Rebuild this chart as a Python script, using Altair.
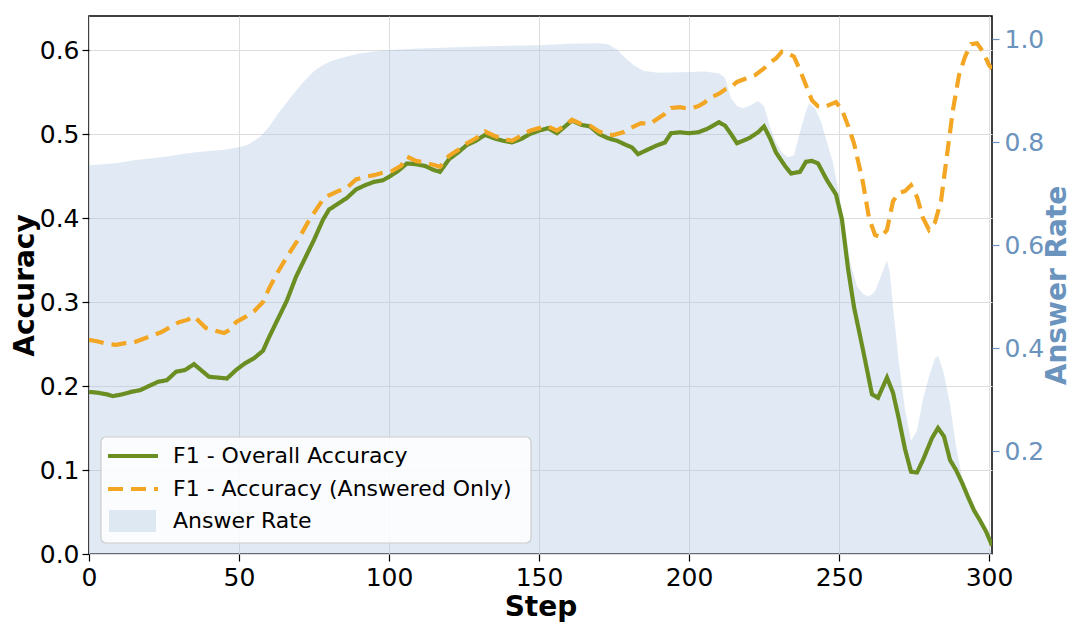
import altair as alt
import pandas as pd

# ---------------- data ----------------
overall_steps = [0, 3, 6, 8, 11, 14, 17, 20, 23, 26, 29, 32, 35, 38, 40, 43, 46, 49, 52, 55,
                 58, 60, 63, 66, 69, 72, 75, 78, 80, 83, 86, 89, 92, 95, 98, 100, 103, 106, 109, 112,
                 115, 117, 120, 123, 126, 129, 132, 135, 138, 141, 144, 147, 150, 153, 156, 159, 161, 164, 167, 170,
                 173, 176, 179, 181, 183, 186, 189, 192, 194, 197, 200, 203, 206, 208, 210, 212, 214, 216, 218, 220,
                 223, 225, 227, 229, 232, 234, 237, 239, 241, 243, 246, 249, 251, 253, 255, 258, 261, 263, 266, 268,
                 270, 272, 274, 276, 278, 281, 283, 285, 287, 289, 291, 293, 295, 297, 299, 301]
overall_vals = [0.193, 0.192, 0.190, 0.188, 0.190, 0.193, 0.195, 0.200, 0.205, 0.207, 0.217, 0.219, 0.226, 0.217, 0.211, 0.210, 0.209, 0.219, 0.227, 0.233,
                0.242, 0.258, 0.280, 0.302, 0.330, 0.352, 0.374, 0.398, 0.410, 0.417, 0.424, 0.434, 0.439, 0.443, 0.445, 0.449, 0.456, 0.465, 0.464, 0.462,
                0.457, 0.455, 0.470, 0.478, 0.487, 0.492, 0.499, 0.495, 0.492, 0.490, 0.494, 0.500, 0.504, 0.507, 0.501, 0.510, 0.516, 0.511, 0.509, 0.500,
                0.495, 0.492, 0.487, 0.484, 0.476, 0.481, 0.486, 0.490, 0.501, 0.502, 0.501, 0.502, 0.506, 0.510, 0.514, 0.510, 0.500, 0.489, 0.492, 0.495,
                0.502, 0.509, 0.495, 0.478, 0.462, 0.453, 0.455, 0.467, 0.468, 0.465, 0.445, 0.428, 0.398, 0.340, 0.294, 0.243, 0.190, 0.186, 0.210, 0.192,
                0.160, 0.125, 0.098, 0.097, 0.112, 0.138, 0.150, 0.140, 0.112, 0.100, 0.085, 0.068, 0.052, 0.040, 0.027, 0.010]

answered_steps = [0, 3, 6, 9, 12, 15, 18, 21, 24, 27, 30, 33, 35, 37, 39, 42, 45, 47, 49, 52,
                  55, 58, 60, 63, 66, 70, 73, 75, 78, 80, 83, 86, 89, 92, 95, 98, 101, 104, 106, 109,
                  112, 115, 117, 120, 123, 126, 129, 132, 135, 138, 141, 144, 147, 150, 153, 156, 159, 161, 164, 167,
                  170, 173, 175, 178, 181, 184, 187, 189, 192, 194, 197, 200, 203, 205, 207, 210, 212, 214, 216, 219,
                  222, 225, 227, 229, 231, 233, 235, 237, 239, 241, 243, 245, 247, 249, 251, 253, 255, 258, 260, 262,
                  264, 266, 268, 270, 272, 274, 276, 278, 280, 282, 284, 286, 288, 290, 292, 294, 296, 298, 300, 301]
answered_vals = [0.255, 0.253, 0.250, 0.249, 0.251, 0.252, 0.256, 0.260, 0.264, 0.270, 0.276, 0.279, 0.283, 0.276, 0.269, 0.266, 0.263, 0.267, 0.276, 0.282,
                 0.289, 0.300, 0.316, 0.336, 0.354, 0.376, 0.395, 0.406, 0.422, 0.427, 0.432, 0.436, 0.446, 0.449, 0.451, 0.454, 0.456, 0.462, 0.473, 0.468,
                 0.466, 0.463, 0.461, 0.474, 0.481, 0.489, 0.495, 0.503, 0.498, 0.494, 0.492, 0.498, 0.504, 0.507, 0.509, 0.504, 0.511, 0.517, 0.512, 0.510,
                 0.503, 0.499, 0.499, 0.502, 0.508, 0.513, 0.512, 0.517, 0.524, 0.531, 0.532, 0.530, 0.533, 0.537, 0.543, 0.548, 0.553, 0.556, 0.562, 0.566,
                 0.570, 0.578, 0.585, 0.590, 0.598, 0.596, 0.592, 0.576, 0.558, 0.540, 0.533, 0.532, 0.535, 0.538, 0.529, 0.510, 0.489, 0.442, 0.400, 0.380,
                 0.377, 0.386, 0.420, 0.430, 0.432, 0.439, 0.425, 0.400, 0.386, 0.395, 0.420, 0.475, 0.529, 0.570, 0.592, 0.607, 0.608, 0.598, 0.582, 0.578]

rate_steps = [0, 5, 10, 15, 20, 25, 30, 35, 40, 45, 50, 53, 57, 60, 63, 66, 69, 72, 75, 78,
              81, 85, 90, 95, 100, 110, 120, 130, 140, 150, 160, 170, 173, 176, 179, 182, 185, 190, 200, 205,
              210, 212, 214, 216, 218, 220, 223, 225, 227, 229, 231, 233, 235, 237, 239, 240, 242, 244, 246, 248,
              250, 252, 254, 256, 258, 260, 262, 264, 266, 267, 268, 270, 272, 274, 276, 278, 280, 282, 283, 285,
              287, 289, 291, 293, 295, 297, 299, 301]
rate_vals = [0.755, 0.757, 0.760, 0.765, 0.768, 0.771, 0.776, 0.780, 0.783, 0.785, 0.790, 0.795, 0.810, 0.830, 0.855, 0.878, 0.900, 0.920, 0.938, 0.950,
             0.958, 0.965, 0.972, 0.976, 0.979, 0.982, 0.984, 0.986, 0.987, 0.988, 0.991, 0.992, 0.990, 0.980, 0.962, 0.948, 0.938, 0.935, 0.936, 0.937,
             0.934, 0.925, 0.885, 0.870, 0.866, 0.870, 0.880, 0.870, 0.830, 0.800, 0.780, 0.770, 0.775, 0.820, 0.860, 0.875, 0.866, 0.840, 0.800, 0.760,
             0.700, 0.630, 0.560, 0.520, 0.505, 0.500, 0.510, 0.540, 0.570, 0.545, 0.480, 0.370, 0.280, 0.220, 0.240, 0.300, 0.345, 0.380, 0.385, 0.350,
             0.290, 0.210, 0.150, 0.115, 0.085, 0.060, 0.035, 0.000]

S1 = "F1 - Overall Accuracy"
S2 = "F1 - Accuracy (Answered Only)"
S3 = "Answer Rate"
legend_labels = [S1, S2, S3]

x_ticks = [0, 50, 100, 150, 200, 250, 300]
acc_ticks = [0.0, 0.1, 0.2, 0.3, 0.4, 0.5, 0.6]
rate_ticks = [0.2, 0.4, 0.6, 0.8, 1.0]

# ---------------- styling ----------------
GREEN = "#6b8e23"
ORANGE = "#f2a623"
BLUE_FILL = "#a9c2e0"
BLUE_TEXT = "#6a93bd"
FONT = "DejaVu Sans"
DASH = [15, 8]

W, H = 903, 538

lines_df = pd.concat([
    pd.DataFrame({"step": overall_steps, "value": overall_vals, "series": S1}),
    pd.DataFrame({"step": answered_steps, "value": answered_vals, "series": S2}),
], ignore_index=True)
rate_df = pd.DataFrame({"step": rate_steps, "rate": rate_vals})

x_axis = alt.Axis(values=x_ticks, title="Step", grid=True, gridColor="#dddddd", gridWidth=1,
                  domain=False, tickColor="black", tickSize=7, tickWidth=1.2,
                  labelFontSize=25, labelColor="black", labelPadding=4, labelFlush=False,
                  titleFontSize=28, titleFontWeight="bold", titleColor="black",
                  titleX=W / 2, titleY=53, titleBaseline="middle")

x_enc = alt.X("step:Q", scale=alt.Scale(domain=[0, 301], nice=False, zero=False), axis=x_axis)

area = alt.Chart(rate_df).mark_area(color=BLUE_FILL, opacity=0.35, clip=True).encode(
    x=x_enc,
    y=alt.Y("rate:Q", scale=alt.Scale(domain=[0, 1.045], nice=False),
            axis=alt.Axis(orient="right", values=rate_ticks, format=".1f", grid=False, domain=False,
                          tickColor=BLUE_TEXT, tickSize=7, tickWidth=1.2,
                          labelFontSize=25, labelColor=BLUE_TEXT, labelPadding=5,
                          title="Answer Rate", titleFontSize=28, titleFontWeight="bold",
                          titleColor=BLUE_TEXT, titleAngle=270, titleX=65, titleY=H / 2,
                          titleBaseline="middle", titleAlign="center")),
)

lines = alt.Chart(lines_df).mark_line(strokeWidth=4.2, clip=True, strokeCap="butt").encode(
    x=x_enc,
    y=alt.Y("value:Q", scale=alt.Scale(domain=[0, 0.6405], nice=False),
            axis=alt.Axis(orient="left", values=acc_ticks, format=".1f", grid=True, gridColor="#dddddd",
                          gridWidth=1, domain=False, tickColor="black", tickSize=7, tickWidth=1.2,
                          labelFontSize=25, labelColor="black", labelPadding=3,
                          title="Accuracy", titleFontSize=28, titleFontWeight="bold", titleColor="black",
                          titleAngle=270, titleX=-64, titleY=H / 2, titleBaseline="middle",
                          titleAlign="center")),
    color=alt.Color("series:N", scale=alt.Scale(domain=[S1, S2], range=[GREEN, ORANGE]), legend=None),
    strokeDash=alt.StrokeDash("series:N", scale=alt.Scale(domain=[S1, S2], range=[[1, 0], DASH]),
                              legend=None),
)

# ---------------- legend (drawn as a boxed key) ----------------
box = alt.Chart(pd.DataFrame({"k": [0]})).mark_rect(
    cornerRadius=5, fill="white", fillOpacity=0.85, stroke="#cccccc", strokeWidth=1.2
).encode(x=alt.value(12), x2=alt.value(442), y=alt.value(421), y2=alt.value(527))

sym1 = alt.Chart(pd.DataFrame({"k": [0]})).mark_rule(color=GREEN, strokeWidth=4).encode(
    x=alt.value(19), x2=alt.value(69), y=alt.value(440))
sym2 = alt.Chart(pd.DataFrame({"k": [0]})).mark_rule(color=ORANGE, strokeWidth=4, strokeDash=DASH).encode(
    x=alt.value(19), x2=alt.value(69), y=alt.value(473))
sym3 = alt.Chart(pd.DataFrame({"k": [0]})).mark_rect(color=BLUE_FILL, opacity=0.35).encode(
    x=alt.value(20), x2=alt.value(67), y=alt.value(494), y2=alt.value(516))

label_layers = []
for lab, yy in zip(legend_labels, [440, 473, 505]):
    label_layers.append(
        alt.Chart(pd.DataFrame({"label": [lab]})).mark_text(
            align="left", baseline="middle", fontSize=22, font=FONT, color="black"
        ).encode(x=alt.value(84), y=alt.value(yy), text="label:N")
    )

chart = alt.layer(area, lines, box, sym1, sym2, sym3, *label_layers).resolve_scale(
    y="independent"
).properties(
    width=W, height=H,
    autosize=alt.AutoSizeParams(type="none"),
    padding={"left": 81, "top": 8, "right": 80, "bottom": 71},
).configure(font=FONT).configure_view(stroke="black", strokeWidth=1.5)

chart.save("out.html", embed_options={"renderer": "svg", "actions": False})
